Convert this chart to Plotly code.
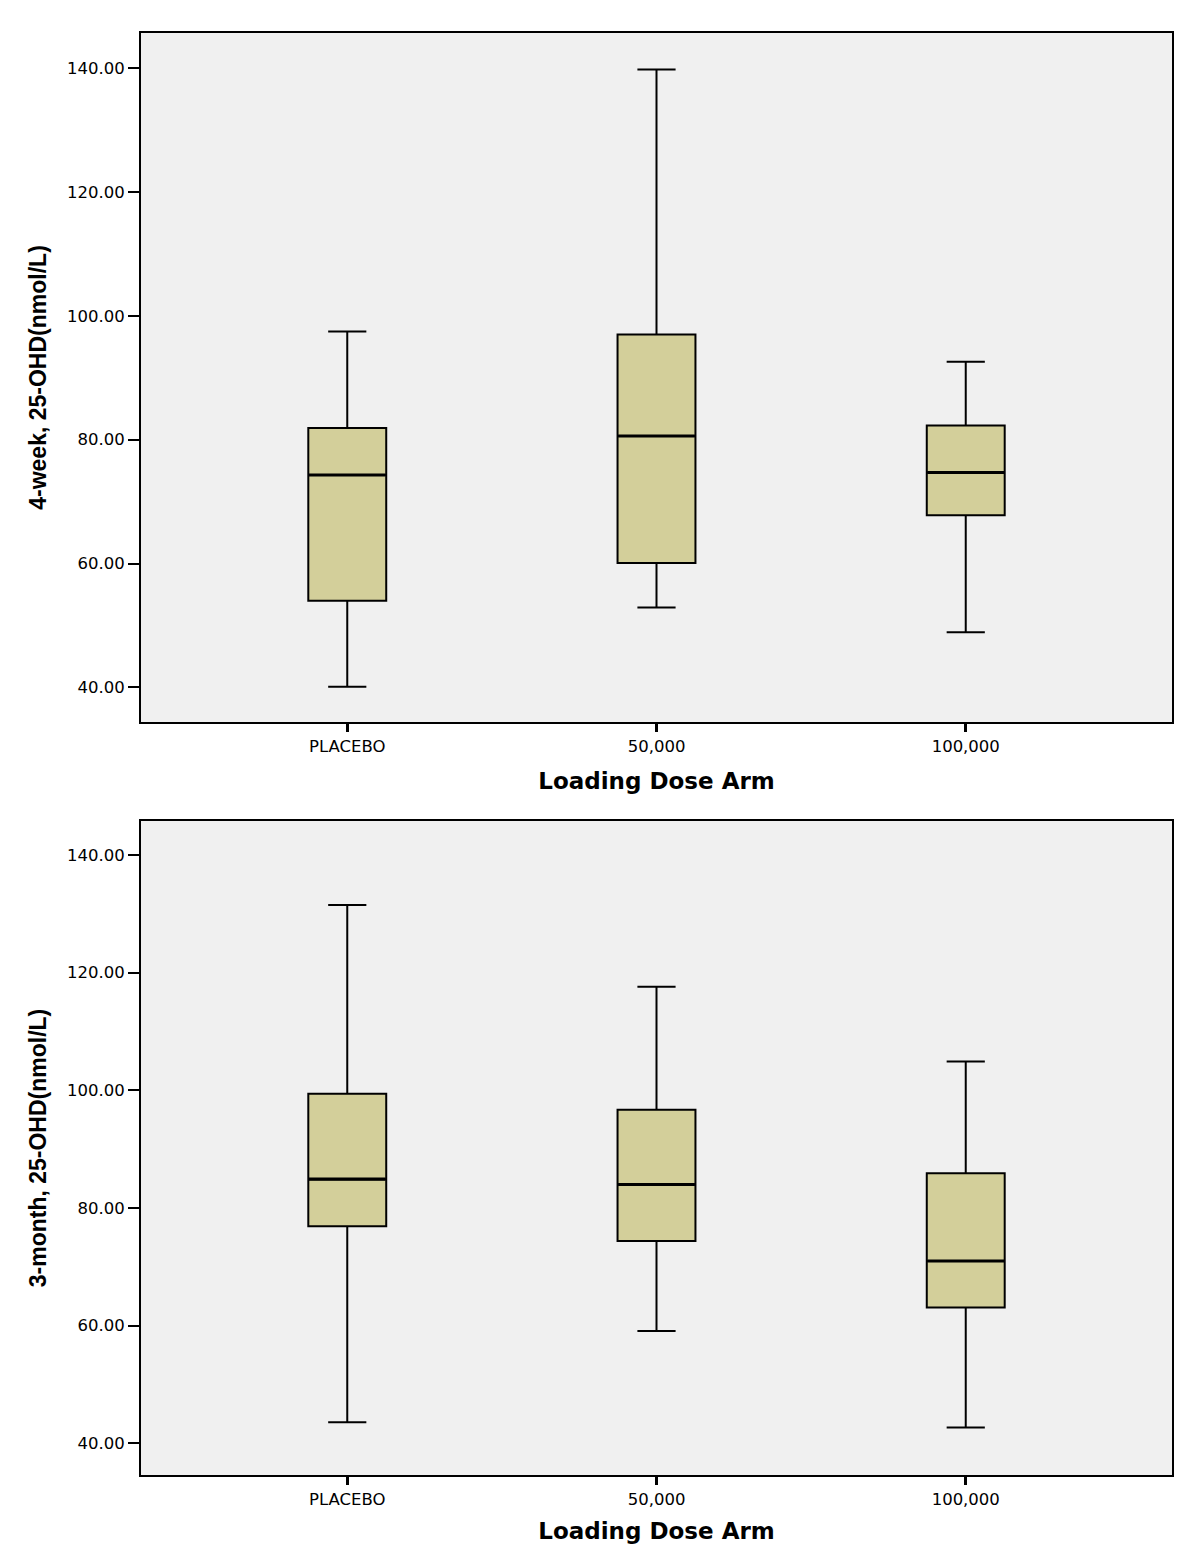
import plotly.graph_objects as go

categories = ["PLACEBO", "50,000", "100,000"]

# 4-week 25-OHD (nmol/L)
wk4_lower = [40.1, 52.9, 48.9]
wk4_q1 = [54.0, 60.1, 67.8]
wk4_median = [74.3, 80.6, 74.7]
wk4_q3 = [81.9, 97.0, 82.3]
wk4_upper = [97.5, 139.8, 92.6]

# 3-month 25-OHD (nmol/L)
m3_lower = [43.6, 59.1, 42.7]
m3_q1 = [76.9, 74.4, 63.1]
m3_median = [84.9, 84.0, 71.0]
m3_q3 = [99.4, 96.7, 85.9]
m3_upper = [131.5, 117.6, 104.9]

y_ticks = [40, 60, 80, 100, 120, 140]
y_titles = ["4-week, 25-OHD(nmol/L)", "3-month, 25-OHD(nmol/L)"]
x_title = "Loading Dose Arm"

FILL = "#D3CF9A"
BG = "#F0F0F0"
BOXW = 0.252

fig = go.Figure()

def add_panel(lower, q1, med, q3, upper, xa, ya):
    fig.add_trace(go.Box(
        x=categories, lowerfence=lower, q1=q1, median=med, q3=q3, upperfence=upper,
        fillcolor=FILL, line=dict(color="black", width=2), width=BOXW,
        whiskerwidth=0.49, boxpoints=False, hoverinfo="skip", showlegend=False,
        xaxis=xa, yaxis=ya))
    # thicker median line
    fig.add_trace(go.Box(
        x=categories, lowerfence=med, q1=med, median=med, q3=med, upperfence=med,
        fillcolor="rgba(0,0,0,0)", line=dict(color="black", width=3.2), width=BOXW * 0.985,
        whiskerwidth=0, boxpoints=False, hoverinfo="skip", showlegend=False,
        xaxis=xa, yaxis=ya))

add_panel(wk4_lower, wk4_q1, wk4_median, wk4_q3, wk4_upper, "x", "y")
add_panel(m3_lower, m3_q1, m3_median, m3_q3, m3_upper, "x2", "y2")

OFF = 8.0  # page body margin
W = 1192.0
H = 1548.0
xdom = [(141 - OFF) / W, (1172 - OFF) / W]
top_dom = [(H - (722 - OFF)) / H, (H - (33 - OFF)) / H]
bot_dom = [(H - (1475 - OFF)) / H, (H - (821 - OFF)) / H]

ytickfont = dict(family="DejaVu Sans, Liberation Sans, sans-serif", size=16.5, color="black")
xtickfont = dict(family="DejaVu Sans, Liberation Sans, sans-serif", size=16.5, color="black")
xtitlefont = dict(family="DejaVu Sans, Liberation Sans, sans-serif", size=23, color="black")
ytitlefont = dict(family="Liberation Sans, Arial, sans-serif", size=23, color="black")

def xaxis_cfg(anchor, standoff):
    return dict(domain=xdom, anchor=anchor, type="category", range=[-0.667, 2.667],
                showline=True, linecolor="black", linewidth=2, mirror=True,
                ticks="outside", ticklen=8, tickwidth=2.5, tickcolor="black",
                showgrid=False, zeroline=False, tickfont=xtickfont,
                title=dict(text="<b>" + x_title + "</b>", font=xtitlefont, standoff=standoff))

def yaxis_cfg(anchor, dom, rng, title):
    return dict(domain=dom, anchor=anchor, range=rng, tickvals=y_ticks,
                ticktext=["%.2f" % v for v in y_ticks],
                showline=True, linecolor="black", linewidth=2, mirror=True,
                ticks="outside", ticklen=11, tickwidth=2, tickcolor="black",
                showgrid=False, zeroline=False, tickfont=ytickfont,
                title=dict(text="<b>" + title + "</b>", font=ytitlefont, standoff=14))

fig.update_layout(
    width=W, height=H,
    margin=dict(l=0, r=0, t=0, b=0),
    paper_bgcolor="white", plot_bgcolor=BG,
    xaxis=xaxis_cfg("y", 18),
    yaxis=yaxis_cfg("x", top_dom, [34.4, 145.7], y_titles[0]),
    xaxis2=xaxis_cfg("y2", 15),
    yaxis2=yaxis_cfg("x2", bot_dom, [34.63, 145.77], y_titles[1]),
    showlegend=False,
)

fig.write_html("out.html")
